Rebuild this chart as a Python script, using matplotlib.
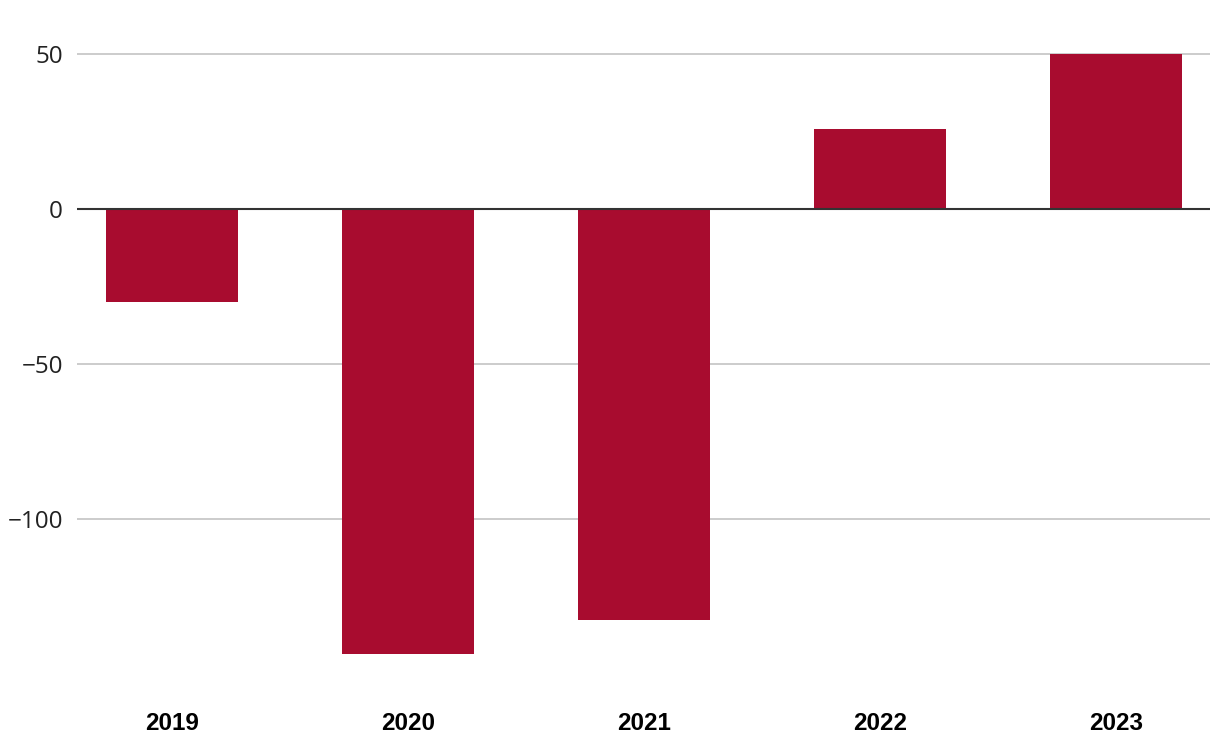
import matplotlib
matplotlib.use("Agg")
import matplotlib.pyplot as plt

years = ["2019", "2020", "2021", "2022", "2023"]
values = [-30, -143.5, -132.6, 25.8, 50]
yticks = [-100, -50, 0, 50]

bar_color = "#A80C2F"

fig = plt.figure(figsize=(12.2, 7.52), dpi=100)
ax = fig.add_axes([77 / 1220, 78 / 752, (1210 - 77) / 1220, (674 - 38.5) / 752])

x = range(len(years))
ax.bar(x, values, width=0.56, color=bar_color, zorder=2)

ax.set_xlim(-95 / 235, 4 + 94 / 235)
ax.set_ylim(-150, 55)
ax.set_yticks(yticks)
ax.set_yticklabels(["\u2212100", "\u221250", "0", "50"])
ax.set_xticks(list(x))
ax.set_xticklabels(years)

for t in yticks:
    if t == 0:
        ax.axhline(0, color="#333333", lw=1.5, zorder=3)
    else:
        ax.axhline(t, color="#c4c4c4", lw=1.2, zorder=1)

for s in ax.spines.values():
    s.set_visible(False)

ax.tick_params(axis="y", length=0, pad=10, labelsize=17.5, labelcolor="#222222")
ax.tick_params(axis="x", length=0, pad=27, labelsize=17.5)
for lbl in ax.get_yticklabels():
    lbl.set_fontfamily("Open Sans")
for lbl in ax.get_xticklabels():
    lbl.set_fontfamily("Liberation Sans")
    lbl.set_fontweight("bold")

fig.savefig("out.png", dpi=100)
